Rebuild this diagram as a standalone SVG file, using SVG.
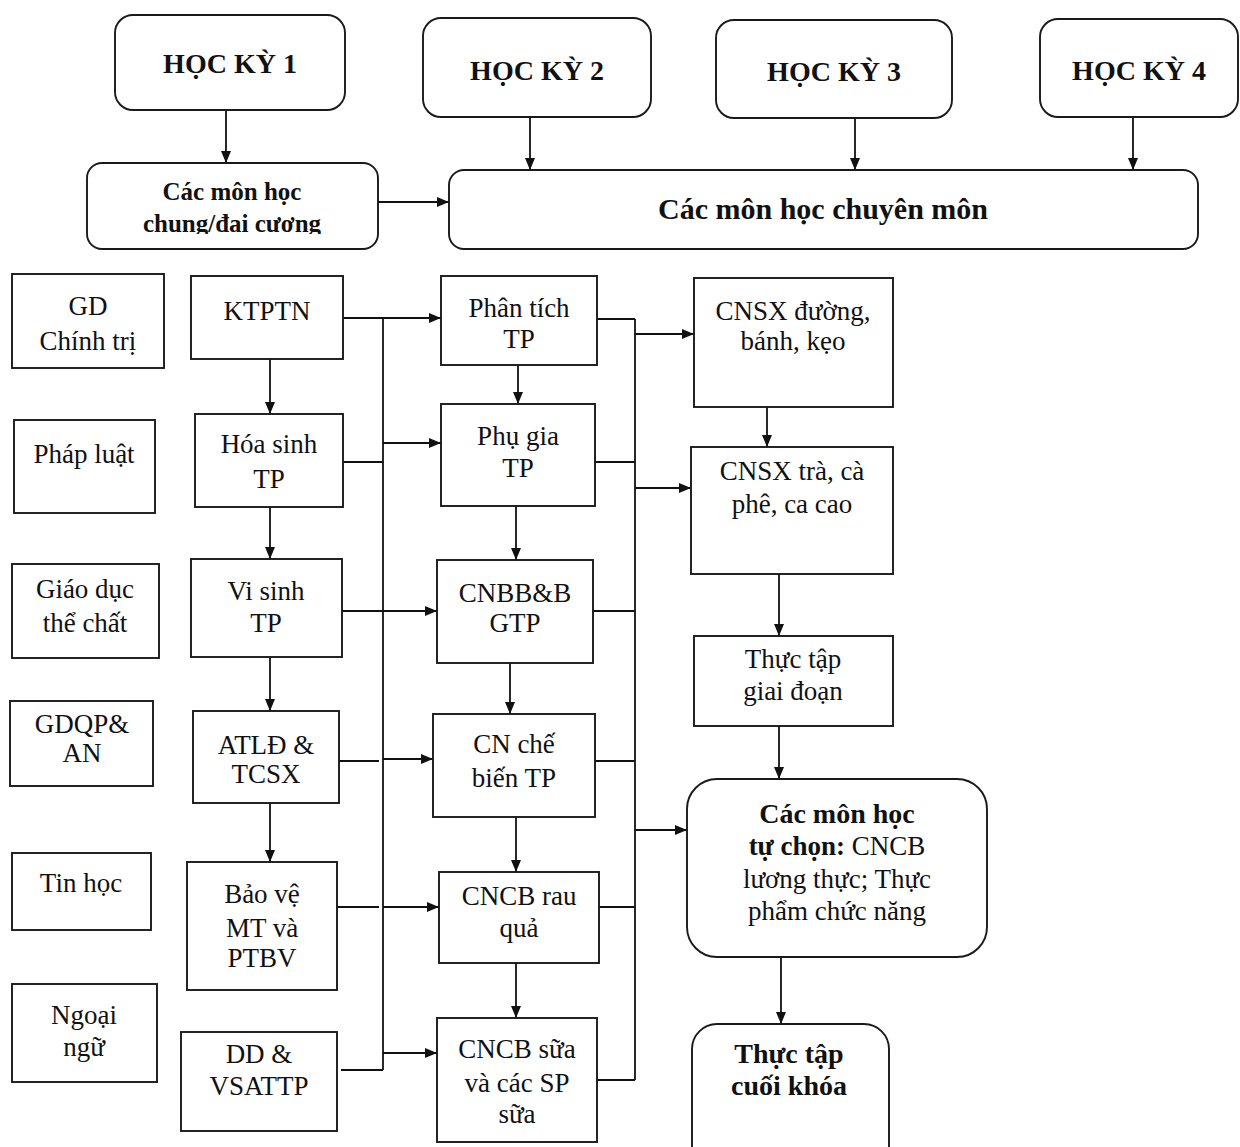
<svg xmlns="http://www.w3.org/2000/svg" width="1240" height="1147" viewBox="0 0 1240 1147">
<style>
.b{fill:#fff;stroke:#1a1a1a;stroke-width:1.9}
.t{font-family:"Liberation Serif","Times New Roman",serif;font-size:27px;fill:#111;text-anchor:middle}
.hb{font-weight:bold;font-size:28px}
.c{fill:none;stroke:#111;stroke-width:1.8}
.a{marker-end:url(#ah)}
</style>
<defs>
<marker id="ah" markerUnits="userSpaceOnUse" markerWidth="12" markerHeight="10" refX="12" refY="5" orient="auto"><path d="M0,0 L12,5 L0,10 z" fill="#111"/></marker>
<clipPath id="clipChung"><rect x="87" y="163" width="291" height="71"/></clipPath>
</defs>
<rect width="1240" height="1147" fill="#fff"/>

<g id="connectors">
<path class="c a" d="M226,110 V163"/>
<path class="c a" d="M378,202 H449"/>
<path class="c a" d="M530,117 V170"/>
<path class="c a" d="M855,118 V170"/>
<path class="c a" d="M1133,117 V170"/>
<path class="c a" d="M270,359 V414"/>
<path class="c a" d="M270,507 V559"/>
<path class="c a" d="M270,657 V711"/>
<path class="c a" d="M270,803 V862"/>
<path class="c" d="M383,318 V1070"/>
<path class="c" d="M343,318 H383"/>
<path class="c a" d="M383,318 H441"/>
<path class="c" d="M343,462 H383"/>
<path class="c a" d="M383,443 H441"/>
<path class="c" d="M342,611 H383"/>
<path class="c a" d="M383,611 H437"/>
<path class="c" d="M339,761 H379"/>
<path class="c a" d="M383,759 H433"/>
<path class="c" d="M337,907 H379"/>
<path class="c a" d="M383,907 H439"/>
<path class="c" d="M341,1070 H383"/>
<path class="c a" d="M383,1053 H437"/>
<path class="c a" d="M518,365 V404"/>
<path class="c a" d="M516,506 V560"/>
<path class="c a" d="M510,663 V714"/>
<path class="c a" d="M516,817 V872"/>
<path class="c a" d="M516,963 V1018"/>
<path class="c" d="M635,319 V1080"/>
<path class="c" d="M597,319 H635"/>
<path class="c" d="M595,462 H635"/>
<path class="c" d="M593,611 H635"/>
<path class="c" d="M595,761 H635"/>
<path class="c" d="M599,907 H635"/>
<path class="c" d="M597,1080 H635"/>
<path class="c a" d="M635,334 H694"/>
<path class="c a" d="M635,488 H691"/>
<path class="c a" d="M635,830 H687"/>
<path class="c a" d="M767,407 V447"/>
<path class="c a" d="M779,574 V636"/>
<path class="c a" d="M779,726 V779"/>
<path class="c a" d="M781,957 V1024"/>
</g>

<g id="hk1"><rect class="b" x="115" y="15" width="230" height="95" rx="18"/><text class="t hb" x="230" y="73">HỌC KỲ 1</text></g>
<g id="hk2"><rect class="b" x="423" y="18" width="228" height="99" rx="18"/><text class="t hb" x="537" y="80">HỌC KỲ 2</text></g>
<g id="hk3"><rect class="b" x="716" y="20" width="236" height="98" rx="18"/><text class="t hb" x="834" y="81">HỌC KỲ 3</text></g>
<g id="hk4"><rect class="b" x="1040" y="19" width="198" height="98" rx="18"/><text class="t hb" x="1139" y="80">HỌC KỲ 4</text></g>
<g id="chung"><rect class="b" x="87" y="163" width="291" height="86" rx="15"/>
<g clip-path="url(#clipChung)"><text class="t" style="font-weight:bold;font-size:25px" x="232" y="200">Các môn học</text><text class="t" style="font-weight:bold;font-size:25px" x="232" y="232">chung/đai cương</text></g></g>
<g id="chuyenmon"><rect class="b" x="449" y="170" width="749" height="79" rx="15"/><text class="t hb" style="font-size:30px" x="823" y="219">Các môn học chuyên môn</text></g>

<g id="gdct"><rect class="b" x="12" y="274" width="152" height="94"/><text class="t" x="88" y="315">GD</text><text class="t" x="88" y="350">Chính trị</text></g>
<g id="phapluat"><rect class="b" x="14" y="420" width="141" height="93"/><text class="t" x="84" y="463">Pháp luật</text></g>
<g id="gdtc"><rect class="b" x="12" y="564" width="147" height="94"/><text class="t" x="85" y="598">Giáo dục</text><text class="t" x="85" y="632">thể chất</text></g>
<g id="gdqp"><rect class="b" x="10" y="701" width="143" height="85"/><text class="t" x="82" y="733">GDQP&amp;</text><text class="t" x="82" y="762">AN</text></g>
<g id="tinhoc"><rect class="b" x="12" y="853" width="139" height="77"/><text class="t" x="81" y="892">Tin học</text></g>
<g id="ngoaingu"><rect class="b" x="12" y="984" width="145" height="98"/><text class="t" x="84" y="1024">Ngoại</text><text class="t" x="84" y="1056">ngữ</text></g>

<g id="ktptn"><rect class="b" x="191" y="276" width="152" height="83"/><text class="t" x="267" y="320">KTPTN</text></g>
<g id="hoasinh"><rect class="b" x="195" y="414" width="148" height="93"/><text class="t" x="269" y="453">Hóa sinh</text><text class="t" x="269" y="488">TP</text></g>
<g id="visinh"><rect class="b" x="191" y="559" width="151" height="98"/><text class="t" x="266" y="600">Vi sinh</text><text class="t" x="266" y="632">TP</text></g>
<g id="atld"><rect class="b" x="193" y="711" width="146" height="92"/><text class="t" x="266" y="754">ATLĐ &amp;</text><text class="t" x="266" y="783">TCSX</text></g>
<g id="baove"><rect class="b" x="187" y="862" width="150" height="128"/><text class="t" x="262" y="903">Bảo vệ</text><text class="t" x="262" y="937">MT và</text><text class="t" x="262" y="967">PTBV</text></g>
<g id="dd"><rect class="b" x="181" y="1032" width="156" height="99"/><text class="t" x="259" y="1063">DD &amp;</text><text class="t" x="259" y="1095">VSATTP</text></g>

<g id="phantich"><rect class="b" x="441" y="276" width="156" height="89"/><text class="t" x="519" y="317">Phân tích</text><text class="t" x="519" y="348">TP</text></g>
<g id="phugia"><rect class="b" x="441" y="404" width="154" height="102"/><text class="t" x="518" y="445">Phụ gia</text><text class="t" x="518" y="477">TP</text></g>
<g id="cnbb"><rect class="b" x="437" y="560" width="156" height="103"/><text class="t" x="515" y="602">CNBB&amp;B</text><text class="t" x="515" y="632">GTP</text></g>
<g id="cnchebien"><rect class="b" x="433" y="714" width="162" height="103"/><text class="t" x="514" y="753">CN chế</text><text class="t" x="514" y="787">biến TP</text></g>
<g id="rauqua"><rect class="b" x="439" y="872" width="160" height="91"/><text class="t" x="519" y="905">CNCB rau</text><text class="t" x="519" y="937">quả</text></g>
<g id="sua"><rect class="b" x="437" y="1018" width="160" height="124"/><text class="t" x="517" y="1058">CNCB sữa</text><text class="t" x="517" y="1092">và các SP</text><text class="t" x="517" y="1123">sữa</text></g>

<g id="duong"><rect class="b" x="694" y="278" width="199" height="129"/><text class="t" x="793" y="320">CNSX đường,</text><text class="t" x="793" y="350">bánh, kẹo</text></g>
<g id="tra"><rect class="b" x="691" y="447" width="202" height="127"/><text class="t" x="792" y="480">CNSX trà, cà</text><text class="t" x="792" y="513">phê, ca cao</text></g>
<g id="thuctapgd"><rect class="b" x="694" y="636" width="199" height="90"/><text class="t" x="793" y="668">Thực tập</text><text class="t" x="793" y="700">giai đoạn</text></g>
<g id="tuchon"><rect class="b" x="687" y="779" width="300" height="178" rx="30"/>
<text class="t" x="837" y="823" style="font-weight:bold;font-size:28px">Các môn học</text>
<text class="t" x="837" y="855"><tspan style="font-weight:bold">tự chọn:</tspan> CNCB</text>
<text class="t" x="837" y="888">lương thực; Thực</text>
<text class="t" x="837" y="920">phẩm chức năng</text></g>
<g id="cuoikhoa"><rect class="b" x="692" y="1024" width="197" height="150" rx="25"/><text class="t hb" x="789" y="1063">Thực tập</text><text class="t hb" x="789" y="1095">cuối khóa</text></g>
</svg>
